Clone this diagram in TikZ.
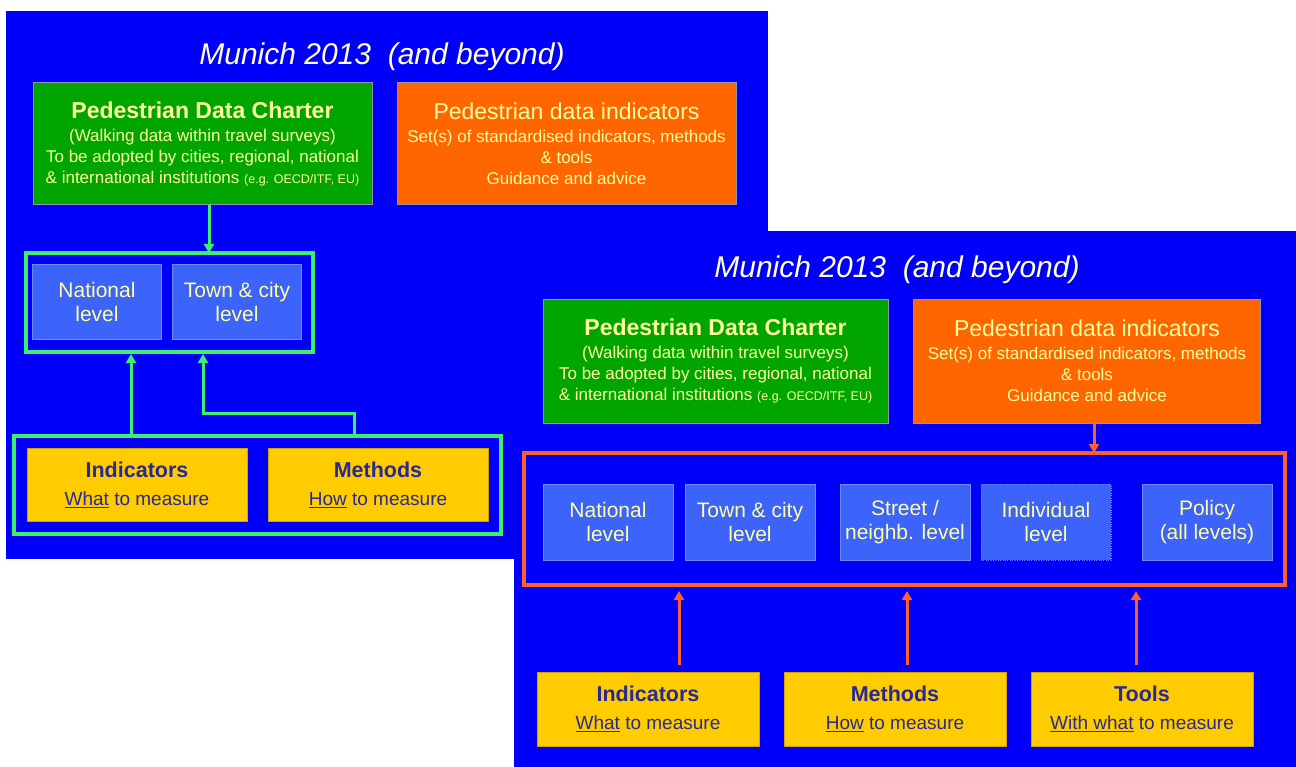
\documentclass[tikz,border=0pt]{standalone}
\usepackage{fontspec}
\setmainfont{Liberation Sans}
\usetikzlibrary{positioning, arrows.meta, calc}

\definecolor{slideblue}{RGB}{0,0,250}
\definecolor{chartergreen}{RGB}{0,165,0}
\definecolor{indorange}{RGB}{255,102,0}
\definecolor{levelblue}{RGB}{60,100,250}
\definecolor{leveledge}{RGB}{110,140,255}
\definecolor{paleyellow}{RGB}{255,255,160}
\definecolor{titlecream}{RGB}{255,255,215}
\definecolor{framegreen}{RGB}{60,240,110}
\definecolor{frameorange}{RGB}{255,95,45}
\definecolor{boxyellow}{RGB}{255,204,0}
\definecolor{navytext}{RGB}{40,40,150}
\definecolor{boxedge}{RGB}{150,150,170}

\newcommand{\titlefont}{\fontsize{30}{34}\selectfont\itshape}
\newcommand{\headfont}{\fontsize{23}{21}\selectfont}
\newcommand{\subfont}{\fontsize{17}{21}\selectfont}
\newcommand{\tinyfont}{\fontsize{12.5}{21}\selectfont}
\newcommand{\levelfont}{\fontsize{21}{24}\selectfont}
\newcommand{\yhead}{\fontsize{21.5}{28}\selectfont\bfseries}
\newcommand{\ysub}{\fontsize{19}{28}\selectfont}

\begin{document}
\begin{tikzpicture}[x=1pt, y=-1pt]
        \tikzstyle{slide} = [fill=slideblue, draw=none]
        \tikzstyle{slidetitle} = [text=titlecream, anchor=base, inner sep=0pt]
        \tikzstyle{charter} = [rectangle, minimum height=122pt, text centered, align=center, draw=boxedge, fill=chartergreen, text=paleyellow, inner sep=0pt, font=\subfont]
        \tikzstyle{indicators} = [charter, fill=indorange]
        \tikzstyle{level} = [rectangle, minimum width=129pt, minimum height=75pt, text centered, align=center, draw=leveledge, fill=levelblue, text=paleyellow, inner sep=0pt, outer sep=0pt, font=\levelfont]
        \tikzstyle{tool} = [rectangle, minimum width=220pt, minimum height=73pt, text centered, align=center, draw=boxyellow!80!black, fill=boxyellow, text=navytext, inner sep=0pt, outer sep=0pt, font=\ysub]
        \tikzstyle{gframe} = [draw=framegreen, line width=3.5pt]
        \tikzstyle{oframe} = [draw=frameorange, line width=3.5pt]
        \tikzstyle{garrow} = [draw=framegreen, line width=3pt, -{Triangle[length=9pt, width=10pt]}]
        \tikzstyle{oarrow} = [draw=frameorange, line width=3pt, -{Triangle[length=9pt, width=10pt]}]

        % page
        \useasboundingbox [fill=white] (0,0) rectangle (1296,767);

        % first slide
        \fill [slide] (6,11) rectangle (768,559);
        \node (title1) [slidetitle] at (382,65) {\titlefont Munich 2013\ \ (and beyond)};
        \node (charter1) [charter, minimum width=339pt] at (202.5,143.5) {{\headfont\bfseries Pedestrian Data Charter}\\[2pt] (Walking data within travel surveys)\\ To be adopted by cities, regional, national\\ \& international institutions {\tinyfont (e.g. OECD/ITF, EU)}};
        \node (ind1) [indicators, minimum width=339pt] at (566.5,143.5) {{\headfont Pedestrian data indicators}\\[2pt] Set(s) of standardised indicators, methods\\ \& tools\\ Guidance and advice};
        \draw [gframe] (26,253) rectangle (313,352);
        \coordinate (lev1top) at (209,253);
        \coordinate (lev1a) at (131,354);
        \coordinate (lev1b) at (203,354);
        \node (nat1) [level] at (97,302) {National\\level};
        \node (town1) [level, right=11pt of nat1] {Town \& city\\level};
        \draw [gframe] (14,436) rectangle (501,534);
        \node (indic1) [tool] at (137,485) {{\yhead Indicators}\\ \underline{What} to measure};
        \node (meth1) [tool] at (378,485) {{\yhead Methods}\\ \underline{How} to measure};
        \coordinate (bot1a) at (131,436);
        \coordinate (bot1b) at (354,436);

        \draw [garrow] (charter1.south -| lev1top) -- (lev1top);
        \draw [garrow] (bot1a) -- (lev1a);
        \draw [garrow] (bot1b) -- ++(0,-23) -| (lev1b);

        % second slide
        \fill [slide] (514,231) rectangle (1296,767);
        \node (title2) [slidetitle] at (897,278) {\titlefont Munich 2013\ \ (and beyond)};
        \node (charter2) [charter, minimum width=345pt, minimum height=124pt] at (715.5,361) {{\headfont\bfseries Pedestrian Data Charter}\\[2pt] (Walking data within travel surveys)\\ To be adopted by cities, regional, national\\ \& international institutions {\tinyfont (e.g. OECD/ITF, EU)}};
        \node (ind2) [indicators, minimum width=347pt, minimum height=124pt] at (1087,361) {{\headfont Pedestrian data indicators}\\[2pt] Set(s) of standardised indicators, methods\\ \& tools\\ Guidance and advice};
        \draw [oframe] (524,453) rectangle (1285,585);
        \coordinate (lev2top) at (1094,453);
        \node (nat2) [level, minimum width=130pt, minimum height=76pt] at (608,522) {National\\level};
        \node (town2) [level, minimum width=130pt, minimum height=76pt, right=12pt of nat2] {Town \& city\\level};
        \node (street2) [level, minimum width=130pt, minimum height=76pt, right=25pt of town2] {Street /\\neighb. level};
        \node (indiv2) [level, minimum width=130pt, minimum height=76pt, right=11pt of street2, dotted] {Individual\\level};
        \node (policy2) [level, minimum width=130pt, minimum height=76pt, right=31pt of indiv2] {Policy\\(all levels)};
        \node (indic2) [tool, minimum width=222pt, minimum height=74pt] at (648,709) {{\yhead Indicators}\\ \underline{What} to measure};
        \node (meth2) [tool, minimum width=222pt, minimum height=74pt] at (895,709) {{\yhead Methods}\\ \underline{How} to measure};
        \node (tools2) [tool, minimum width=222pt, minimum height=74pt] at (1142,709) {{\yhead Tools}\\ \underline{With what} to measure};
        \coordinate (lev2a) at (679,591);
        \coordinate (lev2b) at (907,591);
        \coordinate (lev2c) at (1136,591);

        \draw [oarrow] (ind2.south -| lev2top) -- (lev2top);
        \draw [oarrow] ([yshift=7pt]indic2.north -| lev2a) -- (lev2a);
        \draw [oarrow] ([yshift=7pt]meth2.north -| lev2b) -- (lev2b);
        \draw [oarrow] ([yshift=7pt]tools2.north -| lev2c) -- (lev2c);
    \end{tikzpicture}
\end{document}
